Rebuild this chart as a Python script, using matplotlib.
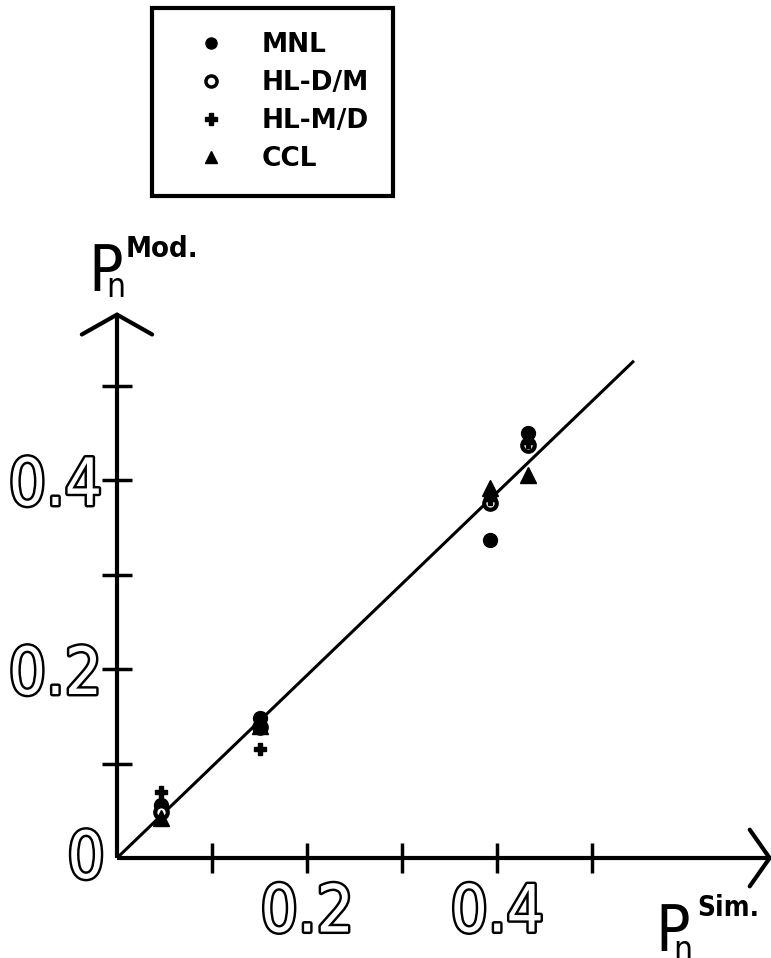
import matplotlib
matplotlib.use("Agg")
import matplotlib.pyplot as plt
import matplotlib.patheffects as pe
from matplotlib.lines import Line2D

# ---- data ----
x_sim = [0.046, 0.151, 0.393, 0.433]
mnl = [0.056, 0.148, 0.337, 0.450]
hl_dm = [0.049, 0.139, 0.376, 0.437]
hl_md = [0.070, 0.115, 0.380, 0.440]
ccl = [0.042, 0.140, 0.392, 0.405]
ref_x = [0.0, 0.543]
ref_y = [0.0, 0.525]
x_ticks = [0.1, 0.2, 0.3, 0.4, 0.5]
x_ticklabels = ["", "0.2", "", "0.4", ""]
y_ticks = [0.1, 0.2, 0.3, 0.4, 0.5]
y_ticklabels = ["", "0.2", "", "0.4", ""]
series_names = ["MNL", "HL-D/M", "HL-M/D", "CCL"]

W, H = 771, 958
fig = plt.figure(figsize=(W / 100, H / 100), dpi=100)

def fx(x):
    return x / W

def fy(y):
    return 1 - y / H

ox, oy = 117, 858
sx, sy = 950, 945
xmax, ymax = 0.68, 0.60
ax = fig.add_axes([fx(ox), fy(oy), xmax * sx / W, ymax * sy / H])
ax.set_xlim(0, xmax)
ax.set_ylim(0, ymax)
for s in ax.spines.values():
    s.set_visible(False)
ax.patch.set_alpha(0)

k = "black"
lwax = 3.0
# axes with open chevron arrowheads
ax.plot([0, 0.687], [0, 0], color=k, lw=lwax, clip_on=False, solid_capstyle="butt")
ax.plot([0, 0], [0, 0.575], color=k, lw=lwax, clip_on=False, solid_capstyle="butt")
ax.plot([0.687 - 0.021, 0.687, 0.687 - 0.021], [0.030, 0, -0.030], color=k, lw=lwax,
        clip_on=False, solid_joinstyle="miter", solid_capstyle="round")
ax.plot([-0.037, 0, 0.037], [0.575 - 0.021, 0.575, 0.575 - 0.021], color=k, lw=lwax,
        clip_on=False, solid_joinstyle="miter", solid_capstyle="round")

# reference line
ax.plot(ref_x, ref_y, color=k, lw=2.2)

# points
ms = 10
ax.plot(x_sim, mnl, "o", color=k, ms=ms, label=series_names[0], clip_on=False)
ax.plot(x_sim, hl_dm, "o", mfc="white", mec=k, mew=3, ms=ms - 1, label=series_names[1], clip_on=False)
ax.plot(x_sim, hl_md, "P", color=k, ms=ms - 1, label=series_names[2], clip_on=False)
ax.plot(x_sim, ccl, "^", color=k, ms=ms + 1, label=series_names[3], clip_on=False)

# ticks
ax.set_xticks(x_ticks)
ax.set_yticks(y_ticks)
ax.tick_params(direction="inout", length=22, width=2.5, color=k)
outline = [pe.withStroke(linewidth=3.5, foreground=k)]
lab_font = dict(family=["DejaVu Sans"], stretch="condensed", fontsize=47)
ax.set_xticklabels(x_ticklabels, color="white", path_effects=outline, **lab_font)
ax.set_yticklabels(y_ticklabels, color="white", path_effects=outline, **lab_font)
ax.tick_params(axis="x", pad=6)
ax.tick_params(axis="y", pad=0)

# origin label
fig.text(fx(86), fy(860), "0", color="white", path_effects=outline,
         ha="center", va="center", **lab_font)

# axis labels  P_n^Mod. and P_n^Sim.
lblf = ["DejaVu Sans"]
fig.text(fx(88), fy(291), "P", fontsize=46, family=lblf, stretch="condensed",
         ha="left", va="baseline")
fig.text(fx(106), fy(297), "n", fontsize=24, family=lblf, stretch="condensed",
         ha="left", va="baseline")
fig.text(fx(126), fy(257), "Mod.", fontsize=21, family=lblf, stretch="condensed",
         weight="bold", ha="left", va="baseline")

fig.text(fx(655), fy(951), "P", fontsize=46, family=lblf, stretch="condensed",
         ha="left", va="baseline")
fig.text(fx(673), fy(960), "n", fontsize=24, family=lblf, stretch="condensed",
         ha="left", va="baseline")
fig.text(fx(697), fy(916), "Sim.", fontsize=20, family=lblf, stretch="condensed",
         weight="bold", ha="left", va="baseline")

# legend
handles = [
    Line2D([], [], ls="none", marker="o", color=k, ms=8),
    Line2D([], [], ls="none", marker="o", mfc="white", mec=k, mew=2.5, ms=8),
    Line2D([], [], ls="none", marker="P", color=k, ms=8),
    Line2D([], [], ls="none", marker="^", color=k, ms=8),
]
leg = fig.legend(handles, series_names, loc="upper left",
                 bbox_to_anchor=(fx(152), fy(8)), bbox_transform=fig.transFigure,
                 frameon=True, fancybox=False, edgecolor=k, framealpha=1,
                 prop=dict(family=["DejaVu Sans"], size=19, weight="bold"),
                 handlelength=2.7, handletextpad=0.55, borderpad=0.9,
                 labelspacing=0.46, borderaxespad=0, markerfirst=True)
leg.get_frame().set_linewidth(3)
leg.get_frame().set_boxstyle("square", pad=0)

fig.savefig("out.png", dpi=100)
